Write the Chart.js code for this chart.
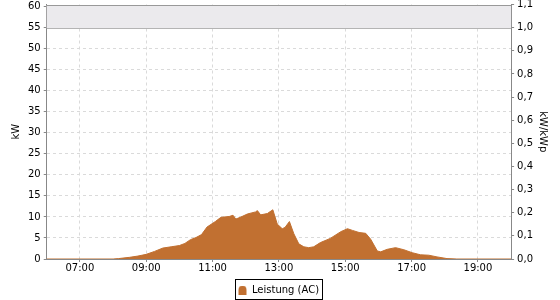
<!DOCTYPE html>
<html lang="de">
<head>
    <meta charset="UTF-8">
    <title>Leistung (AC)</title>
    <script src="https://cdn.jsdelivr.net/npm/chart.js"></script>
    <style>
        body { margin: 0; background: #fff; }
    </style>
</head>
<body>
    <canvas id="grafik" width="560" height="300"></canvas>

    <script>
        // Messzeitpunkte und Leistung in kW
        const zeiten = ['06:00', '08:00', '08:10', '08:30', '08:45', '09:00', '09:15', '09:30', '09:45',
            '10:00', '10:10', '10:20', '10:30', '10:40', '10:50', '11:05', '11:15', '11:30', '11:37',
            '11:42', '11:50', '12:03', '12:18', '12:21', '12:27', '12:39', '12:49', '12:57', '13:06',
            '13:11', '13:19', '13:27', '13:36', '13:45', '13:54', '14:03', '14:15', '14:33', '14:52',
            '15:04', '15:13', '15:25', '15:37', '15:46', '15:58', '16:04', '16:16', '16:31', '16:46',
            '17:01', '17:16', '17:31', '17:46', '18:04', '18:22', '20:00'];
        const leistung = [0, 0, 0.1, 0.4, 0.7, 1.1, 1.8, 2.6, 2.9,
            3.2, 3.7, 4.6, 5.1, 5.8, 7.6, 8.9, 9.9, 10.1, 10.4,
            9.5, 9.9, 10.7, 11.2, 11.5, 10.5, 10.8, 11.7, 8.3, 7.2,
            7.5, 8.9, 6.0, 3.6, 2.9, 2.7, 2.9, 3.9, 4.9, 6.5,
            7.2, 6.8, 6.3, 6.1, 4.7, 1.9, 1.7, 2.3, 2.7, 2.2,
            1.5, 1.0, 0.9, 0.5, 0.1, 0, 0];

        const kwTicks = [0, 5, 10, 15, 20, 25, 30, 35, 40, 45, 50, 55, 60];
        const kwpTicks = [0, 0.1, 0.2, 0.3, 0.4, 0.5, 0.6, 0.7, 0.8, 0.9, 1.0, 1.1];
        const stundenTicks = [7, 9, 11, 13, 15, 17, 19];
        const nennleistung = 55; // kWp, entspricht 1,0 kW/kWp

        const farbe = '#c17031';
        const schrift = { family: 'DejaVu Sans', size: 10 };

        function inStunden(t) {
            const [h, m] = t.split(':').map(Number);
            return h + m / 60;
        }

        // Symbol fuer die Legende (oben abgerundet)
        const symbol = document.createElement('canvas');
        symbol.width = 9; symbol.height = 9;
        const sctx = symbol.getContext('2d');
        sctx.fillStyle = farbe;
        sctx.beginPath();
        sctx.moveTo(0.5, 9);
        sctx.lineTo(0.5, 4.5);
        sctx.quadraticCurveTo(0.5, 0, 4.5, 0);
        sctx.quadraticCurveTo(8.5, 0, 8.5, 4.5);
        sctx.lineTo(8.5, 9);
        sctx.closePath();
        sctx.fill();

        // Bereich oberhalb der Nennleistung grau hinterlegen, Rahmen oben, Kasten um Legende
        const bandPlugin = {
            id: 'band',
            beforeDatasetsDraw(chart) {
                const { ctx, chartArea, scales } = chart;
                const y55 = Math.round(scales.y.getPixelForValue(nennleistung));
                const top = Math.round(chartArea.top);
                ctx.save();
                ctx.fillStyle = '#ebeaed';
                ctx.fillRect(chartArea.left, top, chartArea.right - chartArea.left, y55 - top);
                ctx.lineWidth = 1;
                ctx.strokeStyle = '#b4b4b4';
                ctx.beginPath();
                ctx.moveTo(chartArea.left, y55 + 0.5);
                ctx.lineTo(chartArea.right, y55 + 0.5);
                ctx.stroke();
                ctx.strokeStyle = '#999';
                ctx.beginPath();
                ctx.moveTo(chartArea.left, top + 0.5);
                ctx.lineTo(chartArea.right, top + 0.5);
                ctx.stroke();
                ctx.restore();
            },
            afterDraw(chart) {
                const box = chart.legend.legendHitBoxes[0];
                if (!box) return;
                const ctx = chart.ctx;
                ctx.save();
                ctx.strokeStyle = '#000';
                ctx.lineWidth = 1;
                ctx.strokeRect(Math.round(box.left) - 2.5, Math.round(box.top) - 5.5,
                    Math.round(box.width) + 6, Math.round(box.height) + 10);
                ctx.restore();
            }
        };

        const achsenGrid = {
            color: '#dadada',
            tickColor: '#888',
            tickBorderDash: [],
            tickLength: 3
        };
        const achsenRand = { color: '#888', width: 1, dash: [3, 3] };
        const obenKnapp = axis => { axis.paddingTop = 4.5; };

        new Chart(document.getElementById('grafik'), {
            type: 'line',
            data: {
                datasets: [{
                    label: 'Leistung (AC)',
                    data: zeiten.map((t, i) => ({ x: inStunden(t), y: leistung[i] })),
                    backgroundColor: farbe,
                    borderColor: farbe,
                    borderWidth: 1,
                    fill: 'origin',
                    pointRadius: 0,
                    pointStyle: symbol,
                    tension: 0
                }]
            },
            options: {
                responsive: false,
                animation: false,
                devicePixelRatio: 1,
                layout: { padding: { top: 0, right: 10, left: 7, bottom: -5 } },
                plugins: {
                    tooltip: { enabled: false },
                    legend: {
                        position: 'bottom',
                        labels: {
                            usePointStyle: true,
                            font: schrift,
                            color: '#000',
                            padding: 11,
                            boxWidth: 9,
                            boxHeight: 9
                        }
                    }
                },
                scales: {
                    x: {
                        type: 'linear',
                        min: 6,
                        max: 20,
                        afterBuildTicks: axis => { axis.ticks = stundenTicks.map(v => ({ value: v })); },
                        ticks: {
                            font: schrift,
                            color: '#000',
                            maxRotation: 0,
                            padding: 0,
                            callback: v => String(v).padStart(2, '0') + ':00'
                        },
                        grid: achsenGrid,
                        border: achsenRand
                    },
                    y: {
                        position: 'left',
                        min: 0,
                        max: 60.5,
                        afterBuildTicks: axis => { axis.ticks = kwTicks.map(v => ({ value: v })); },
                        afterFit: obenKnapp,
                        ticks: { font: schrift, color: '#000', padding: 3 },
                        title: { display: true, text: 'kW', font: schrift, color: '#000', padding: 3 },
                        grid: achsenGrid,
                        border: achsenRand
                    },
                    y1: {
                        position: 'right',
                        min: 0,
                        max: 1.1,
                        afterBuildTicks: axis => { axis.ticks = kwpTicks.map(v => ({ value: v })); },
                        afterFit: obenKnapp,
                        ticks: {
                            font: schrift,
                            color: '#000',
                            padding: 3,
                            callback: v => v.toFixed(1).replace('.', ',')
                        },
                        title: { display: true, text: 'kW/kWp', font: schrift, color: '#000', padding: 1 },
                        grid: { drawOnChartArea: false, tickColor: '#888', tickLength: 3 },
                        border: { color: '#888', width: 1 }
                    }
                }
            },
            plugins: [bandPlugin]
        });
    </script>
</body>
</html>
